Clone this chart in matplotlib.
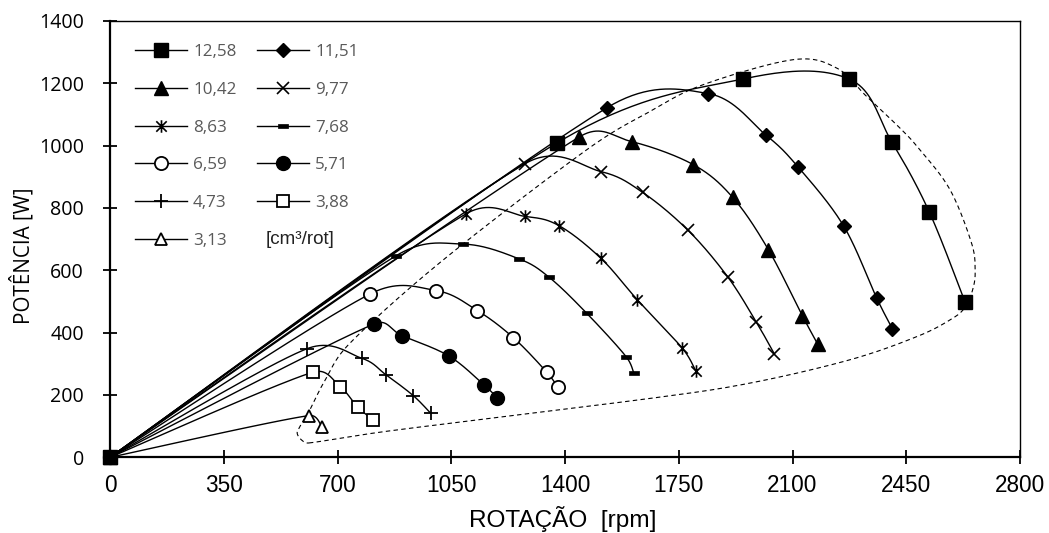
import numpy as np
import matplotlib
matplotlib.use("Agg")
import matplotlib.pyplot as plt
from matplotlib.path import Path

# ---------------- data ----------------
labels = ["12,58", "11,51", "10,42", "9,77", "8,63", "7,68",
          "6,59", "5,71", "4,73", "3,88", "3,13"]

rpm_1258 = [0, 1374, 1949, 2274, 2405, 2521, 2631]
pow_1258 = [0, 1008, 1214, 1214, 1013, 787, 498]
rpm_1151 = [0, 1528, 1841, 2017, 2116, 2257, 2359, 2407]
pow_1151 = [0, 1121, 1167, 1035, 933, 743, 511, 413]
rpm_1042 = [0, 1444, 1605, 1795, 1916, 2026, 2130, 2177]
pow_1042 = [0, 1028, 1013, 939, 834, 666, 455, 364]
rpm_977 = [0, 1277, 1510, 1639, 1779, 1900, 1988, 2044]
pow_977 = [0, 942, 917, 850, 728, 580, 435, 332]
rpm_863 = [0, 1095, 1277, 1382, 1510, 1623, 1761, 1802]
pow_863 = [0, 781, 773, 743, 639, 505, 350, 278]
rpm_768 = [0, 879, 1087, 1258, 1352, 1467, 1588, 1612]
pow_768 = [0, 646, 684, 637, 577, 462, 323, 270]
rpm_659 = [0, 800, 1003, 1130, 1241, 1344, 1378]
pow_659 = [0, 524, 535, 471, 384, 273, 225]
rpm_571 = [0, 813, 899, 1043, 1151, 1192]
pow_571 = [0, 428, 390, 325, 232, 191]
rpm_473 = [0, 605, 774, 850, 933, 987]
pow_473 = [0, 348, 318, 264, 198, 141]
rpm_388 = [0, 624, 708, 762, 810]
pow_388 = [0, 273, 227, 161, 120]
rpm_313 = [0, 613, 653]
pow_313 = [0, 134, 96]

# dashed envelope (closed loop)
env_rpm = [612, 862, 1662, 1969, 2277, 2482, 2585, 2630, 2655, 2662, 2651, 2585,
           2492, 2431, 2328, 2236, 2103, 1826, 1662, 1467, 1026, 738, 662, 615,
           585, 576, 590]
env_pow = [46, 85, 189, 238, 313, 387, 441, 480, 540, 600, 687, 858,
           987, 1056, 1158, 1249, 1276, 1196, 1110, 987, 634, 366, 248, 152,
           100, 77, 55]

x_ticks = [0, 350, 700, 1050, 1400, 1750, 2100, 2450, 2800]
y_ticks = [0, 200, 400, 600, 800, 1000, 1200, 1400]
unit_text = "[cm³/rot]"

# ---------------- figure ----------------
W, H = 1049, 533
PX2PT = 72 / 100
fig = plt.figure(figsize=(W / 100, H / 100), dpi=100)
ax_l, ax_r, ax_t, ax_b = 110, 1020, 21, 457.3
ax = fig.add_axes([ax_l / W, 1 - ax_b / H, (ax_r - ax_l) / W, (ax_b - ax_t) / H])
ax.set_xlim(0, 2800)
ax.set_ylim(0, 1400)
fig.canvas.draw()
R = fig.canvas.get_renderer()


def fit_size(s, family, target_w, base=12):
    t = fig.text(0, 0, s, family=family, fontsize=base)
    w = t.get_window_extent(R).width
    t.remove()
    return base * target_w / w


def smooth(xs, ys, closed=False, n=40):
    """Excel-like smoothed Bezier curve, computed in display space."""
    pts = ax.transData.transform(np.column_stack([xs, ys]).astype(float))
    N = len(pts)

    def P(i):
        if closed:
            return pts[i % N]
        return pts[min(max(i, 0), N - 1)]

    segs = range(N) if closed else range(N - 1)
    out = []
    t = np.linspace(0, 1, n)[:, None]
    for i in segs:
        p0, p1, p2, p3 = P(i - 1), P(i), P(i + 1), P(i + 2)
        L = np.linalg.norm(p2 - p1)
        d1 = p2 - p0
        n1 = np.linalg.norm(d1)
        c1 = p1 + d1 / n1 * min(n1 / 6, L / 2) if n1 > 0 else p1
        d2 = p3 - p1
        n2 = np.linalg.norm(d2)
        c2 = p2 - d2 / n2 * min(n2 / 6, L / 2) if n2 > 0 else p2
        b = ((1 - t) ** 3) * p1 + 3 * ((1 - t) ** 2) * t * c1 + \
            3 * (1 - t) * (t ** 2) * c2 + (t ** 3) * p2
        out.append(b if i == 0 else b[1:])
    d = ax.transData.inverted().transform(np.vstack(out))
    return d[:, 0], d[:, 1]


# custom markers
asterisk = Path([(-1, -1), (1, 1), (-1, 1), (1, -1), (0, -1.2), (0, 1.2)],
                [Path.MOVETO, Path.LINETO, Path.MOVETO, Path.LINETO,
                 Path.MOVETO, Path.LINETO])
dash = Path([(-1, -0.35), (1, -0.35), (1, 0.35), (-1, 0.35), (-1, -0.35)],
            [Path.MOVETO, Path.LINETO, Path.LINETO, Path.LINETO, Path.CLOSEPOLY])

K = "black"
styles = {
    "12,58": dict(marker="s", ms=10, mfc=K, mec=K, mew=1),
    "11,51": dict(marker="D", ms=7, mfc=K, mec=K, mew=1),
    "10,42": dict(marker="^", ms=9.5, mfc=K, mec=K, mew=1),
    "9,77": dict(marker="x", ms=9, mfc=K, mec=K, mew=1.2),
    "8,63": dict(marker=asterisk, ms=9, mfc=K, mec=K, mew=1.2),
    "7,68": dict(marker=dash, ms=7, mfc=K, mec=K, mew=0.5),
    "6,59": dict(marker="o", ms=9.5, mfc="white", mec=K, mew=1.3),
    "5,71": dict(marker="o", ms=10, mfc=K, mec=K, mew=1),
    "4,73": dict(marker="+", ms=10, mfc=K, mec=K, mew=1.3),
    "3,88": dict(marker="s", ms=9, mfc="white", mec=K, mew=1.3),
    "3,13": dict(marker="^", ms=9, mfc="white", mec=K, mew=1.3),
}

series = [
    ("12,58", rpm_1258, pow_1258), ("11,51", rpm_1151, pow_1151),
    ("10,42", rpm_1042, pow_1042), ("9,77", rpm_977, pow_977),
    ("8,63", rpm_863, pow_863), ("7,68", rpm_768, pow_768),
    ("6,59", rpm_659, pow_659), ("5,71", rpm_571, pow_571),
    ("4,73", rpm_473, pow_473), ("3,88", rpm_388, pow_388),
    ("3,13", rpm_313, pow_313),
]

# envelope
ex, ey = smooth(env_rpm, env_pow, closed=True)
ax.plot(ex, ey, color=K, lw=0.8, ls=(0, (4, 3)), zorder=2)

handles = {}
nser = len(series)
for k, (lab, xs, ys) in enumerate(series):
    sx, sy = smooth(xs, ys)
    z = 3 + (nser - k)
    ax.plot(sx, sy, color=K, lw=1.0, zorder=z, clip_on=False)
    ax.plot(xs, ys, ls="none", zorder=z + 0.5, clip_on=False, **styles[lab])
    handles[lab] = plt.Line2D([], [], color=K, lw=1.0, **styles[lab])

# ---------------- axes styling ----------------
XF, YF = "Liberation Sans", "Open Sans"
xt_size = fit_size("1400", XF, 50)
yt_size = fit_size("1400", YF, 45)
ax.set_xticks(x_ticks)
ax.set_yticks(y_ticks)
ax.set_xticklabels([str(v) for v in x_ticks], family=XF, fontsize=xt_size)
ax.set_yticklabels([str(v) for v in y_ticks], family=YF, fontsize=yt_size)
ax.tick_params(axis="both", direction="inout", length=9.5, width=1.3, colors=K)
ax.tick_params(axis="x", pad=7)
ax.tick_params(axis="y", pad=12)
for s in ["left", "bottom"]:
    ax.spines[s].set_linewidth(1.6)
for s in ["top", "right"]:
    ax.spines[s].set_linewidth(1.0)

# adjust tick label pads from measured extents
fig.canvas.draw()
lbl = ax.get_yticklabels()[-1]
x1 = lbl.get_window_extent(R).x1
ax.tick_params(axis="y", pad=12 + (x1 - 84) * PX2PT)
lbl = ax.get_xticklabels()[4]
top = H - lbl.get_window_extent(R).y1
ax.tick_params(axis="x", pad=max(1, 7 + (474 - top) * PX2PT))

xl_size = fit_size("ROTAÇÃO  [rpm]", XF, 187)
fig.text(563 / W, 1 - 519 / H, "ROTAÇÃO  [rpm]", family=XF,
         fontsize=xl_size, ha="center", va="center")
yl_size = fit_size("POTÊNCIA [W]", YF, 136)
fig.text(22 / W, 1 - 256 / H, "POTÊNCIA [W]", family=YF,
         fontsize=yl_size, ha="center", va="center", rotation=90)

# ---------------- legend (row-major order in two columns) ----------------
order = ["12,58", "10,42", "8,63", "6,59", "4,73", "3,13",
         "11,51", "9,77", "7,68", "5,71", "3,88"]
lg_size = fit_size("12,58", YF, 43)
fs_px = lg_size / PX2PT
params = dict(handlelength=52 / fs_px, handletextpad=6 / fs_px,
              columnspacing=1.3, labelspacing=1.3)


def make_legend(anchor):
    return ax.legend([handles[o] for o in order], order, ncol=2, loc="upper left",
                     bbox_to_anchor=anchor, frameon=False, borderpad=0,
                     borderaxespad=0, prop={"family": YF, "size": lg_size},
                     labelcolor="#595959", **params)


def to_axes(px, py):
    return ((px - ax_l) / (ax_r - ax_l), 1 - (py - ax_t) / (ax_b - ax_t))


anchor = to_axes(135, 33)
leg = make_legend(anchor)
fig.canvas.draw()
texts = leg.get_texts()
b0 = texts[0].get_window_extent(R)
b1 = texts[1].get_window_extent(R)
b6 = texts[6].get_window_extent(R)
spacing = (b0.y0 + b0.y1) / 2 - (b1.y0 + b1.y1) / 2
params["labelspacing"] += (37.9 - spacing) / fs_px
params["columnspacing"] += (315 - b6.x0) / fs_px
leg.remove()
leg = make_legend(anchor)
fig.canvas.draw()
texts = leg.get_texts()
b0 = texts[0].get_window_extent(R)
cy = H - (b0.y0 + b0.y1) / 2
dx = 193 - b0.x0
leg.remove()
leg = make_legend(to_axes(135 + dx, 33 + (51.7 - cy)))

ut_size = fit_size(unit_text, XF, 69)
fig.text(266 / W, 1 - 240 / H, unit_text, family=XF,
         fontsize=ut_size, ha="left", va="center", color="#222222")

fig.savefig("out.png", dpi=100)
